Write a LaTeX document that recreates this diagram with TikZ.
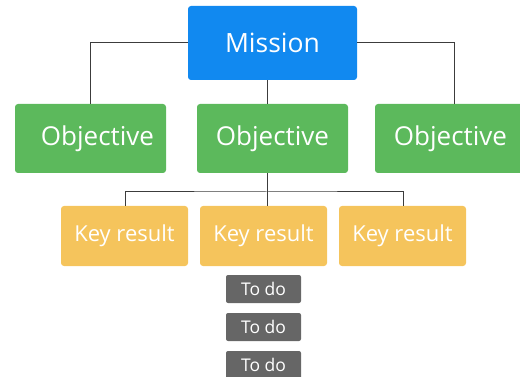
\documentclass[tikz,border=0pt]{standalone}
\usepackage{fontspec}
\setmainfont{Open Sans}
\definecolor{mblue}{RGB}{17,137,240}
\definecolor{ogreen}{RGB}{92,185,92}
\definecolor{kyellow}{RGB}{245,196,92}
\definecolor{tgray}{RGB}{102,102,102}
\definecolor{lgray}{RGB}{60,60,60}
\begin{document}
\begin{tikzpicture}[x=1pt,y=-1pt,
  card/.style={rounded corners=3pt, inner sep=0pt, text=white},
  mission/.style={card, fill=mblue, minimum width=169pt, minimum height=74pt, font=\fontsize{26.5}{30}\selectfont},
  objective/.style={card, fill=ogreen, minimum width=151pt, minimum height=69pt, font=\fontsize{26}{30}\selectfont},
  keyres/.style={card, fill=kyellow, minimum width=127pt, minimum height=60pt, font=\fontsize{22}{26}\selectfont},
  todo/.style={card, rounded corners=2pt, fill=tgray, minimum width=75pt, minimum height=28pt, font=\fontsize{17.5}{20}\selectfont},
  link/.style={draw=lgray, line width=1pt}]
\useasboundingbox (0,0) rectangle (520,377);
\clip (0,0) rectangle (520,377);
\node[mission] (m) at (272.5,43) {Mission};
\node[objective] (o1) at (90.5,138.5) {\hspace{14pt}Objective};
\node[objective] (o2) at (272.5,138.5) {Objective};
\node[objective] (o3) at (450.5,138.5) {Objective};
\node[keyres] (k1) at (124.5,236) {Key result};
\node[keyres] (k2) at (263.5,236) {Key result};
\node[keyres] (k3) at (402.5,236) {Key result};
\node[todo] (t1) at (263.5,289) {To do};
\node[todo] (t2) at (263.5,327) {To do};
\node[todo] (t3) at (263.5,365) {To do};
\coordinate (j) at (267,192);
\draw[link] (m.west) -| (o1.north);
\draw[link] (m.east) -| ([xshift=3.5pt]o3.north);
\draw[link] (m.south -| j) -- (o2.north -| j);
\draw[link] (o2.south -| j) -- (j);
\draw[link] ([xshift=0.5pt]k1.north) |- (j) -| ([xshift=0.5pt]k3.north);
\draw[link] (j) -- (k2.north -| j);
\end{tikzpicture}
\end{document}
